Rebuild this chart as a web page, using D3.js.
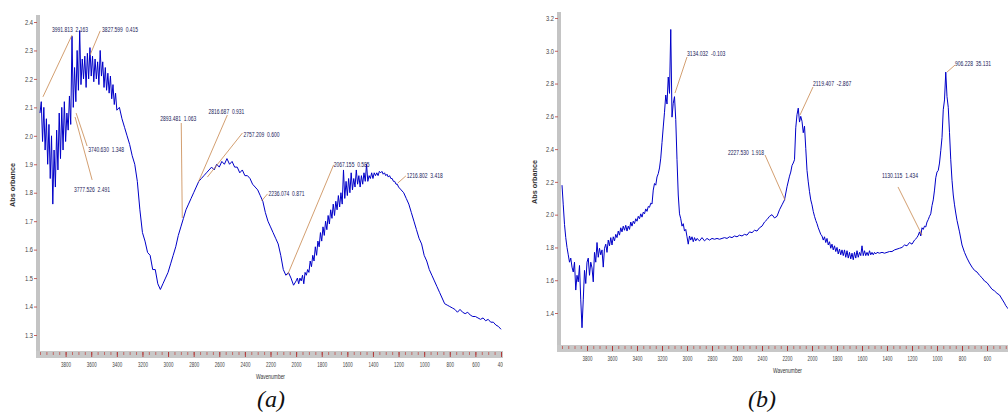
<!DOCTYPE html>
<html><head><meta charset="utf-8">
<script src="https://cdn.jsdelivr.net/npm/d3@7"></script>
<style>
html,body{margin:0;padding:0;background:#fff;}
svg{display:block;}
</style></head><body>
<svg id="chart" width="1008" height="414"></svg>
<script>
// ---------- DATA ----------
// Spectrum (a): [wavenumber, absorbance]
const spectrumA = [
[4000,2.08],[3990,2.12],[3980,1.98],[3970,2.10],[3960,1.95],[3950,2.06],[3940,1.90],[3930,2.04],[3920,1.85],[3910,2.00],
[3900,1.76],[3890,1.95],[3880,1.82],[3870,2.02],[3860,1.88],[3850,2.08],[3840,1.92],[3830,2.10],[3820,1.95],[3810,2.12],
[3800,1.98],[3790,2.08],[3780,2.02],[3770,2.14],[3760,2.04],[3750,2.35],[3740,2.10],[3730,2.24],[3720,2.12],[3710,2.30],
[3700,2.16],[3690,2.37],[3680,2.18],[3670,2.27],[3660,2.20],[3650,2.28],[3640,2.17],[3630,2.29],[3620,2.20],[3610,2.31],
[3600,2.21],[3590,2.28],[3580,2.19],[3570,2.27],[3560,2.20],[3550,2.26],[3540,2.18],[3530,2.30],[3520,2.21],[3510,2.26],
[3500,2.17],[3490,2.24],[3480,2.16],[3470,2.22],[3460,2.15],[3450,2.21],[3440,2.13],[3430,2.18],[3420,2.11],[3410,2.15],
[3400,2.09],
[3380,2.10],[3360,2.06],[3340,2.03],[3320,2.00],[3300,1.97],[3280,1.93],[3260,1.90],[3240,1.84],[3220,1.74],[3200,1.66],
[3180,1.63],[3160,1.59],[3140,1.58],[3120,1.53],[3100,1.53],[3080,1.48],[3060,1.46],[3040,1.48],[3020,1.50],[3000,1.52],
[2980,1.55],[2960,1.58],[2940,1.61],[2920,1.65],[2900,1.68],[2880,1.71],[2860,1.74],[2840,1.76],[2820,1.78],[2800,1.80],
[2780,1.82],[2760,1.84],[2740,1.85],[2720,1.86],[2700,1.87],[2680,1.88],[2660,1.89],[2640,1.88],[2620,1.90],[2600,1.89],
[2580,1.91],[2560,1.90],[2540,1.92],[2520,1.90],[2500,1.91],[2480,1.89],[2460,1.89],[2440,1.87],[2420,1.88],[2400,1.86],
[2380,1.86],[2360,1.85],[2340,1.83],[2320,1.82],[2300,1.81],[2280,1.79],[2260,1.77],[2240,1.73],[2220,1.70],[2200,1.68],
[2180,1.66],[2160,1.64],[2140,1.62],[2120,1.58],[2100,1.53],[2080,1.51],[2060,1.52],[2040,1.50],[2020,1.475],[2000,1.49],
[1990,1.50],[1980,1.48],[1970,1.50],[1960,1.49],[1950,1.51],[1940,1.48],[1930,1.52],[1920,1.51],[1910,1.53],[1900,1.52],
[1890,1.56],[1880,1.54],[1870,1.58],[1860,1.56],[1850,1.61],[1840,1.58],[1830,1.63],[1820,1.61],[1810,1.66],[1800,1.63],
[1790,1.68],[1780,1.65],[1770,1.70],[1760,1.67],[1750,1.72],[1740,1.69],[1730,1.74],[1720,1.71],[1710,1.76],[1700,1.72],
[1690,1.77],[1680,1.74],[1670,1.79],[1660,1.75],[1650,1.80],[1640,1.76],[1630,1.88],[1620,1.78],[1610,1.84],[1600,1.79],
[1590,1.85],[1580,1.80],[1570,1.87],[1560,1.81],[1550,1.85],[1540,1.82],[1530,1.88],[1520,1.83],[1510,1.86],[1500,1.82],
[1490,1.86],[1480,1.83],[1470,1.87],[1460,1.84],[1450,1.90],[1440,1.84],[1430,1.86],[1420,1.85],[1410,1.87],[1400,1.85],
[1390,1.87],[1380,1.86],[1370,1.87],[1360,1.86],[1350,1.875],[1340,1.87],[1330,1.875],[1320,1.865],[1310,1.87],[1300,1.86],
[1290,1.865],[1280,1.855],[1270,1.86],[1260,1.85],[1250,1.85],[1240,1.84],[1230,1.84],[1220,1.83],[1210,1.83],[1200,1.82],
[1180,1.81],[1160,1.80],[1140,1.78],[1120,1.76],[1100,1.73],[1080,1.70],[1060,1.67],[1040,1.64],[1020,1.62],[1000,1.58],
[980,1.56],[960,1.53],[940,1.51],[920,1.49],[900,1.47],[880,1.45],[860,1.43],[840,1.41],[820,1.405],[800,1.40],
[780,1.395],[760,1.39],[740,1.38],[720,1.39],[700,1.38],[680,1.375],[660,1.38],[640,1.37],[620,1.365],[600,1.365],
[580,1.36],[560,1.355],[540,1.36],[520,1.35],[500,1.355],[480,1.345],[460,1.345],[440,1.335],[420,1.33],[400,1.32]
];
// Spectrum (b): [wavenumber, absorbance]
const spectrumB = [
[4000,2.18],[3990,2.06],[3980,1.94],[3970,1.86],[3960,1.80],[3950,1.755],[3940,1.71],[3930,1.735],[3920,1.68],[3910,1.65],
[3900,1.71],[3890,1.54],[3880,1.63],[3870,1.59],[3860,1.69],[3850,1.48],[3840,1.31],[3830,1.48],[3820,1.66],[3810,1.58],
[3800,1.71],[3790,1.735],[3780,1.63],[3770,1.71],[3760,1.675],[3750,1.59],[3740,1.77],[3730,1.71],[3720,1.83],[3710,1.74],
[3700,1.795],[3690,1.755],[3680,1.785],[3670,1.68],[3660,1.795],[3650,1.82],[3640,1.77],[3630,1.845],[3620,1.81],[3610,1.86],
[3600,1.815],[3590,1.865],[3580,1.84],[3570,1.88],[3560,1.86],[3550,1.90],[3540,1.875],[3530,1.92],[3520,1.895],[3510,1.93],
[3500,1.905],[3490,1.935],[3480,1.90],[3470,1.93],[3460,1.91],[3450,1.955],[3440,1.93],[3430,1.96],[3420,1.945],[3410,1.975],
[3400,1.96],[3390,1.99],[3380,1.975],[3370,2.005],[3360,1.985],[3350,2.015],[3340,2.005],[3330,2.035],[3320,2.02],[3310,2.05],
[3300,2.045],[3290,2.07],[3280,2.065],[3270,2.15],[3260,2.19],[3250,2.18],[3240,2.23],[3230,2.25],[3220,2.285],[3210,2.345],
[3200,2.44],[3190,2.535],[3180,2.625],[3170,2.73],[3160,2.675],[3150,2.84],[3140,2.74],[3130,3.13],[3120,2.595],[3110,2.68],
[3100,2.72],[3090,2.58],[3080,2.335],[3070,2.12],[3060,2.005],[3050,1.975],[3040,1.93],[3030,1.945],[3020,1.90],[3010,1.91],
[3000,1.865],[2990,1.82],[2980,1.87],[2970,1.845],[2960,1.865],[2950,1.835],[2940,1.86],[2930,1.84],[2920,1.855],
[2900,1.84],[2880,1.86],[2860,1.84],[2840,1.855],[2820,1.845],[2800,1.855],[2780,1.85],[2760,1.855],[2740,1.85],[2720,1.855],
[2700,1.86],[2680,1.855],[2660,1.865],[2640,1.86],[2620,1.87],[2600,1.865],[2580,1.875],[2560,1.87],[2540,1.88],[2520,1.875],
[2500,1.895],[2480,1.89],[2460,1.905],[2440,1.90],[2420,1.92],[2400,1.93],[2380,1.955],[2360,1.97],[2340,1.99],[2320,2.00],
[2300,1.98],[2280,1.99],[2260,2.03],[2240,2.06],[2220,2.09],[2200,2.17],[2180,2.235],[2170,2.26],[2160,2.30],[2150,2.315],
[2140,2.335],[2130,2.53],[2120,2.61],[2110,2.65],[2100,2.565],[2090,2.60],[2080,2.57],[2070,2.50],[2060,2.54],[2050,2.405],
[2040,2.27],[2030,2.20],[2020,2.14],[2010,2.09],[2000,2.06],[1990,2.02],[1980,1.99],[1970,1.965],[1960,1.945],[1950,1.92],
[1940,1.90],[1930,1.88],[1920,1.87],[1910,1.845],[1900,1.865],[1890,1.83],[1880,1.855],[1870,1.815],[1860,1.835],[1850,1.795],
[1840,1.82],[1830,1.785],[1820,1.81],[1810,1.775],[1800,1.80],[1790,1.76],[1780,1.79],[1770,1.755],[1760,1.785],[1750,1.75],
[1740,1.785],[1730,1.74],[1720,1.78],[1710,1.735],[1700,1.77],[1690,1.73],[1680,1.765],[1670,1.725],[1660,1.77],[1650,1.735],
[1640,1.78],[1630,1.74],[1620,1.77],[1610,1.75],[1600,1.81],[1590,1.75],[1580,1.78],[1570,1.75],[1560,1.77],[1550,1.75],
[1540,1.78],[1530,1.755],[1520,1.77],[1510,1.755],[1500,1.77],[1490,1.76],[1480,1.77],
[1460,1.765],[1440,1.77],[1420,1.765],[1400,1.77],[1380,1.775],[1360,1.775],[1340,1.785],[1320,1.79],[1300,1.795],[1280,1.80],
[1260,1.815],[1240,1.81],[1220,1.83],[1200,1.82],[1180,1.845],[1160,1.86],[1150,1.875],[1140,1.895],[1130,1.87],[1120,1.92],
[1110,1.91],[1100,1.93],[1090,1.925],[1080,1.955],[1070,1.97],[1060,1.99],[1050,2.005],[1040,2.055],[1030,2.09],[1020,2.15],
[1010,2.225],[1000,2.26],[990,2.27],[980,2.315],[970,2.39],[960,2.47],[950,2.64],[940,2.70],[930,2.87],[920,2.72],
[910,2.655],[900,2.50],[890,2.335],[880,2.21],[870,2.12],[860,2.06],[850,2.01],[840,1.965],[820,1.895],[800,1.815],
[780,1.77],[760,1.735],[740,1.705],[720,1.68],[700,1.66],[680,1.65],[660,1.63],[640,1.615],[620,1.595],[600,1.585],
[580,1.565],[560,1.545],[540,1.535],[520,1.52],[500,1.51],[480,1.485],[460,1.46],[450,1.445],[440,1.435],[430,1.425],[400,1.405]
];
const xTicksA = [3800,3600,3400,3200,3000,2800,2600,2400,2200,2000,1800,1600,1400,1200,1000,800,600,400];
const xTicksB = [3800,3600,3400,3200,3000,2800,2600,2400,2200,2000,1800,1600,1400,1200,1000,800,600];
const yTicksA = [1.3,1.4,1.5,1.6,1.7,1.8,1.9,2.0,2.1,2.2,2.3,2.4];
const yTicksB = [1.4,1.6,1.8,2.0,2.2,2.4,2.6,2.8,3.0,3.2];
// peak labels: text position (wn, abs) and leader line from (x1,y1) to (x2,y2) in data units
const peaksA = [
 {label:"3991.813  2.163", tx:3906, ty:2.372, x1:3750, y1:2.354, x2:3977, y2:2.137},
 {label:"3827.599  0.415", tx:3515, ty:2.372, x1:3530, y1:2.369, x2:3609, y2:2.284},
 {label:"3740.630  1.348", tx:3624, ty:1.950, x1:3632, y1:1.964, x2:3718, y2:2.080},
 {label:"3777.526  2.491", tx:3734, ty:1.810, x1:3593, y1:1.845, x2:3726, y2:2.066},
 {label:"2893.481  1.063", tx:3061, ty:2.059, x1:2897, y1:2.045, x2:2889, y2:1.711},
 {label:"2816.687  0.931", tx:2685, ty:2.084, x1:2537, y1:2.073, x2:2763, y2:1.838},
 {label:"2757.209  0.600", tx:2411, ty:2.003, x1:2419, y1:2.010, x2:2693, y2:1.855},
 {label:"2236.074  0.871", tx:2216, ty:1.796, x1:2223, y1:1.796, x2:2270, y2:1.771},
 {label:"2067.155  0.585", tx:1707, ty:1.898, x1:1707, y1:1.898, x2:2067, y2:1.511},
 {label:"1216.802  3.418", tx:1136, ty:1.859, x1:1143, y1:1.859, x2:1206, y2:1.834}
];
const peaksB = [
 {label:"3134.032  -0.103", tx:3000, ty:2.986, x1:3000, y1:2.962, x2:3096, y2:2.742},
 {label:"2227.530  1.918", tx:2672, ty:2.382, x1:2376, y1:2.364, x2:2216, y2:2.089},
 {label:"2119.407  -2.867", tx:1992, ty:2.803, x1:1992, y1:2.779, x2:2096, y2:2.608},
 {label:"1130.115  1.434", tx:1440, ty:2.236, x1:1312, y1:2.169, x2:1120, y2:1.876},
 {label:"906.228  35.131", tx:856, ty:2.925, x1:856, y1:2.913, x2:920, y2:2.870}
];
const yAxisTitle = "Abs orbance";
const xAxisTitle = "Wavenumber";
const captions = ["(a)","(b)"];

// ---------- LAYOUT ----------
const SANS = "'Liberation Sans', Arial, sans-serif";
const SERIF = "'Liberation Serif', 'Times New Roman', serif";
const panels = [
 {data:spectrumA, peaks:peaksA, xTicks:xTicksA, yTicks:yTicksA, yDom:[1.3,2.4], yRange:[335,22], xRange:[40,501],
  barX:36, top:15, axisY:351, right:503, clipX:0, clipW:503, ylabX:15, ylabY:185, xlabX:256, xlabY:379,
  capX:271, capY:407, caption:captions[0]},
 {data:spectrumB, peaks:peaksB, xTicks:xTicksB, yTicks:yTicksB, yDom:[1.4,3.2], yRange:[313,18], xRange:[562,1012],
  barX:557, top:12, axisY:345, right:1008, clipX:505, clipW:503, ylabX:537, ylabY:182, xlabX:773, xlabY:373,
  capX:762, capY:407, caption:captions[1]}
];

const svg = d3.select("#chart");
const defs = svg.append("defs");
const minorTicks = d3.range(4000, 399, -50);

panels.forEach((p, i) => {
  defs.append("clipPath").attr("id", "clip" + i)
    .append("rect").attr("x", p.clipX).attr("y", 0).attr("width", p.clipW).attr("height", 414);
  const g = svg.append("g").attr("clip-path", `url(#clip${i})`);
  const x = d3.scaleLinear().domain([4000, 400]).range(p.xRange);
  const y = d3.scaleLinear().domain(p.yDom).range(p.yRange);

  // gray axis bars
  g.append("rect").attr("x", p.barX).attr("y", p.top).attr("width", 4).attr("height", p.axisY - p.top + 7)
    .attr("fill", "#c4c4c4");
  g.append("rect").attr("x", p.barX).attr("y", p.axisY).attr("width", p.right - p.barX).attr("height", 7)
    .attr("fill", "#c8c8c8");

  // x axis minor ticks
  const gMinor = g.append("g").attr("transform", `translate(0,${p.axisY + 1})`)
    .call(d3.axisBottom(x).tickValues(minorTicks).tickSize(3).tickFormat(""));
  gMinor.select(".domain").remove();
  gMinor.selectAll(".tick line").attr("stroke", "#c0504d").attr("stroke-width", 0.8);

  // x axis major ticks + labels
  const gx = g.append("g").attr("transform", `translate(0,${p.axisY + 1})`)
    .call(d3.axisBottom(x).tickValues(p.xTicks).tickSize(5).tickPadding(5).tickFormat(d3.format("d")));
  gx.select(".domain").remove();
  gx.selectAll(".tick line").attr("stroke", "#b03030").attr("stroke-width", 0.9);
  gx.selectAll(".tick text").attr("font-size", 7).attr("fill", "#444").style("font-family", SANS)
    .attr("textLength", d => String(d).length * 2.5).attr("lengthAdjust", "spacingAndGlyphs");

  // y axis
  const gy = g.append("g").attr("transform", `translate(${p.barX + 1},0)`)
    .call(d3.axisLeft(y).tickValues(p.yTicks).tickSize(3).tickPadding(1).tickFormat(d3.format(".1f")));
  gy.select(".domain").remove();
  gy.selectAll(".tick line").attr("stroke", "#c0504d").attr("stroke-width", 0.9);
  gy.selectAll(".tick text").attr("font-size", 7).attr("fill", "#444").style("font-family", SANS)
    .attr("textLength", 8).attr("lengthAdjust", "spacingAndGlyphs");

  // spectrum line
  const line = d3.line().x(d => x(d[0])).y(d => y(d[1]));
  g.append("path").datum(p.data).attr("d", line)
    .attr("fill", "none").attr("stroke", "#0000c8").attr("stroke-width", 1).attr("stroke-linejoin", "round");

  // peak annotations
  p.peaks.forEach(a => {
    g.append("line").attr("x1", x(a.x1)).attr("y1", y(a.y1)).attr("x2", x(a.x2)).attr("y2", y(a.y2))
      .attr("stroke", "#c8864c").attr("stroke-width", 0.8);
    g.append("text").attr("x", x(a.tx)).attr("y", y(a.ty)).attr("dy", "0.35em")
      .attr("font-size", 7).attr("fill", "#1c1c5a").style("font-family", SANS).style("white-space", "pre")
      .attr("textLength", a.label.length * 2.4).attr("lengthAdjust", "spacingAndGlyphs")
      .text(a.label);
  });

  // axis titles
  g.append("text").attr("transform", `translate(${p.ylabX},${p.ylabY}) rotate(-90)`)
    .attr("text-anchor", "middle").attr("font-size", 7.5).attr("font-weight", "bold").attr("fill", "#333")
    .style("font-family", SANS)
    .attr("textLength", 44).attr("lengthAdjust", "spacingAndGlyphs").text(yAxisTitle);
  g.append("text").attr("x", p.xlabX).attr("y", p.xlabY).attr("font-size", 7).attr("fill", "#333")
    .style("font-family", SANS)
    .attr("textLength", 29).attr("lengthAdjust", "spacingAndGlyphs").text(xAxisTitle);

  // caption
  svg.append("text").attr("x", p.capX).attr("y", p.capY).attr("text-anchor", "middle")
    .style("font-family", SERIF).style("font-style", "italic")
    .attr("font-size", 24).attr("fill", "#111").text(p.caption);
});
</script>
</body></html>
